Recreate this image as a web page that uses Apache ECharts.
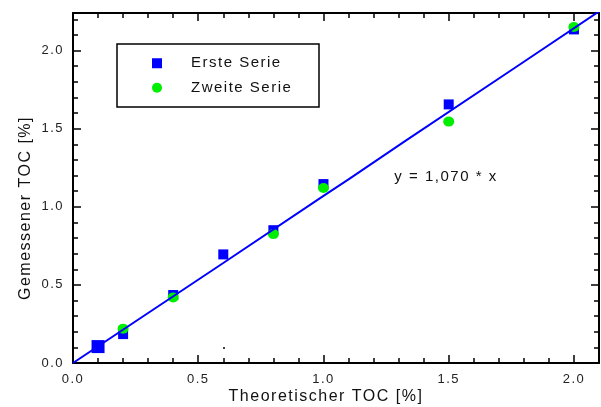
<!DOCTYPE html>
<html>
<head>
<meta charset="utf-8">
<script src="https://cdn.jsdelivr.net/npm/echarts@6/dist/echarts.min.js"></script>
<style>
html,body{margin:0;padding:0;background:#fff;}
#chart{width:601px;height:407px;}
</style>
</head>
<body>
<div id="chart"></div>
<script>
// ---- data ----
const ersteSerieX = [0.1, 0.2, 0.4, 0.6, 0.8, 1.0, 1.5, 2.0];
const ersteSerieY = [0.105, 0.185, 0.435, 0.695, 0.85, 1.145, 1.655, 2.135];
const zweiteSerieX = [0.2, 0.4, 0.8, 1.0, 1.5, 2.0];
const zweiteSerieY = [0.22, 0.42, 0.825, 1.12, 1.545, 2.15];
const fitLineX = [0, 0.6, 1.0, 1.1, 1.33, 1.76, 2.1];
const fitLineY = [0, 0.64, 1.07, 1.175, 1.425, 1.885, 2.25];
const seriesNames = ['Erste Serie', 'Zweite Serie'];
const xTitle = 'Theoretischer TOC [%]';
const yTitle = 'Gemessener TOC [%]';
const fitLabel = 'y = 1,070 * x';

// slight letter spacing as in the original typography
(function(){
  const P = CanvasRenderingContext2D.prototype;
  if (!('letterSpacing' in P)) return;
  ['fillText','strokeText','measureText'].forEach(function(n){
    const f = P[n];
    P[n] = function(){ this.letterSpacing = '1.5px'; return f.apply(this, arguments); };
  });
})();

const FONT = "'Liberation Sans', Arial, sans-serif";
const XMAX = 2.1, YMAX = 2.24;

function zip(a, b){ return a.map((v, i) => [v, b[i]]); }

const ersteData = zip(ersteSerieX, ersteSerieY).map((p, i) => i === 0 ? {value: p, symbolSize: 13} : p);

function axisDef(pos, major, labels, max){
  return {
    type: 'value', position: pos, min: 0, max: max,
    interval: major ? 0.5 : 0.1,
    axisLine: {show: major, onZero: false, lineStyle: {color: '#000', width: 2}},
    axisTick: {show: true, inside: true, length: major ? 8 : 5, lineStyle: {color: '#000', width: 1.5}},
    axisLabel: {show: labels, showMaxLabel: false, margin: 9, color: '#222', fontSize: 13, fontFamily: FONT,
      formatter: v => v.toFixed(1)},
    splitLine: {show: false}
  };
}

const chart = echarts.init(document.getElementById('chart'), null, {renderer: 'canvas'});
chart.setOption({
  animation: false,
  backgroundColor: '#fff',
  grid: {left: 73, right: 2, top: 13, bottom: 44, containLabel: false},
  xAxis: [axisDef('bottom', true, true, XMAX), axisDef('bottom', false, false, XMAX),
          axisDef('top', true, false, XMAX), axisDef('top', false, false, XMAX)],
  yAxis: [axisDef('left', true, true, YMAX), axisDef('left', false, false, YMAX),
          axisDef('right', true, false, YMAX), axisDef('right', false, false, YMAX)],
  legend: {
    data: seriesNames, orient: 'vertical', left: 152, top: 55, padding: 0,
    itemWidth: 10, itemHeight: 10, itemGap: 8,
    textStyle: {fontSize: 15, color: '#111', fontFamily: FONT, padding: [0, 0, 0, 24]}
  },
  graphic: [
    {type: 'rect', z: 1, shape: {x: 117, y: 44, width: 202, height: 63},
     style: {fill: 'none', stroke: '#000', lineWidth: 1.5}},
    {type: 'text', z: 10, x: 446, y: 177,
     style: {text: fitLabel, fontSize: 15, fill: '#111', fontFamily: FONT, align: 'center', verticalAlign: 'middle'}},
    {type: 'text', z: 10, x: 326, y: 397,
     style: {text: xTitle, fontSize: 16, fill: '#111', fontFamily: FONT, align: 'center', verticalAlign: 'middle'}},
    {type: 'text', z: 10, x: 26, y: 208, rotation: Math.PI / 2,
     style: {text: yTitle, fontSize: 16, fill: '#111', fontFamily: FONT, align: 'center', verticalAlign: 'middle'}},
    {type: 'circle', z: 10, shape: {cx: 224, cy: 348, r: 1}, style: {fill: '#000'}}
  ],
  series: [
    {name: seriesNames[0], type: 'scatter', symbol: 'rect', symbolSize: 10,
     itemStyle: {color: '#0000ff', opacity: 1}, data: ersteData, z: 2},
    {name: seriesNames[1], type: 'scatter', symbol: 'circle', symbolSize: [11, 10],
     itemStyle: {color: '#00ee00', opacity: 1}, data: zip(zweiteSerieX, zweiteSerieY), z: 3},
    {name: 'fit', type: 'line', showSymbol: false, symbol: 'none', silent: true,
     lineStyle: {color: '#0000ff', width: 2}, data: zip(fitLineX, fitLineY), z: 4}
  ]
});
</script>
</body>
</html>
